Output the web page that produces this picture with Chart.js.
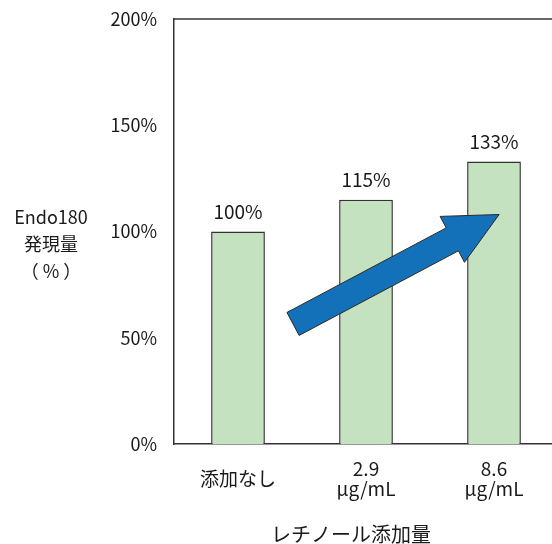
<!DOCTYPE html>
<html lang="ja">
<head>
<meta charset="UTF-8">
<title>Endo180 発現量</title>
<script src="https://cdn.jsdelivr.net/npm/chart.js"></script>
<style>
    body { margin: 0; overflow: hidden; background: #fff; }
    #wrap { width: 560px; height: 544px; }
</style>
</head>
<body>
<div id="wrap"><canvas id="chart" width="560" height="544"></canvas></div>
<script>
    var categories = ['添加なし', ['2.9', 'μg/mL'], ['8.6', 'μg/mL']];
    var expression = [100, 115, 133];
    var yTicks = [0, 50, 100, 150, 200];
    var yTitle = ['Endo180', '発現量', '（ % ）'];
    var xTitle = 'レチノール添加量';
    // arrow tail / tip in data units (category index, %)
    var arrowFrom = [0.43, 56.5];
    var arrowTo = [2.04, 108];

    var FONT = '"Noto Sans CJK JP", "Noto Sans", sans-serif';

    var decorPlugin = {
        id: 'decor',
        beforeDatasetsDraw: function (chart) {
            var ctx = chart.ctx, a = chart.chartArea;
            ctx.save();
            ctx.strokeStyle = '#333';
            ctx.lineWidth = 1.5;
            ctx.beginPath();
            ctx.moveTo(a.left, a.top);
            ctx.lineTo(chart.width, a.top);
            ctx.stroke();
            ctx.restore();
        },
        afterDatasetsDraw: function (chart) {
            var ctx = chart.ctx;
            var xs = chart.scales.x, ys = chart.scales.y;
            ctx.save();

            // value labels
            ctx.fillStyle = '#1a1a1a';
            ctx.font = '19px ' + FONT;
            ctx.textAlign = 'center';
            ctx.textBaseline = 'middle';
            chart.getDatasetMeta(0).data.forEach(function (bar, i) {
                ctx.fillText(expression[i] + '%', bar.x, bar.y - 20);
            });

            // trend arrow
            var x0 = xs.getPixelForValue(arrowFrom[0]), y0 = ys.getPixelForValue(arrowFrom[1]);
            var x1 = xs.getPixelForValue(arrowTo[0]), y1 = ys.getPixelForValue(arrowTo[1]);
            var dx = x1 - x0, dy = y1 - y0, len = Math.sqrt(dx * dx + dy * dy);
            var ux = dx / len, uy = dy / len, nx = -uy, ny = ux;
            var shaft = 13, head = 26, headLen = 53;
            var bx = x1 - ux * headLen, by = y1 - uy * headLen;
            ctx.beginPath();
            ctx.moveTo(x0 + nx * shaft, y0 + ny * shaft);
            ctx.lineTo(bx + nx * shaft, by + ny * shaft);
            ctx.lineTo(bx + nx * head, by + ny * head);
            ctx.lineTo(x1, y1);
            ctx.lineTo(bx - nx * head, by - ny * head);
            ctx.lineTo(bx - nx * shaft, by - ny * shaft);
            ctx.lineTo(x0 - nx * shaft, y0 - ny * shaft);
            ctx.closePath();
            ctx.fillStyle = '#1271b9';
            ctx.fill();
            ctx.strokeStyle = '#2a2a2a';
            ctx.lineWidth = 1;
            ctx.stroke();

            // axis titles
            ctx.fillStyle = '#1a1a1a';
            ctx.font = '18px ' + FONT;
            yTitle.forEach(function (t, i) {
                ctx.fillText(t, 51, 217 + i * 27);
            });
            ctx.font = '20px ' + FONT;
            ctx.fillText(xTitle, 351, 534);
            ctx.restore();
        }
    };

    new Chart(document.getElementById('chart'), {
        type: 'bar',
        data: {
            labels: categories,
            datasets: [{
                data: expression,
                backgroundColor: '#c5e2c0',
                borderColor: '#333',
                borderWidth: 1.5,
                barPercentage: 0.42,
                categoryPercentage: 1
            }]
        },
        options: {
            responsive: false,
            animation: false,
            layout: { padding: { top: 19, right: 2, bottom: 0, left: 0 } },
            plugins: { legend: { display: false }, tooltip: { enabled: false } },
            scales: {
                x: {
                    grid: { display: false, drawTicks: false },
                    border: { display: true, color: '#333', width: 1.5 },
                    ticks: {
                        color: '#1a1a1a',
                        padding: 25,
                        crossAlign: 'center',
                        maxRotation: 0,
                        font: { family: FONT, size: 19, lineHeight: 1.05 }
                    },
                    afterFit: function (s) {
                        s.height = 100;
                        s.paddingLeft = 0; s.paddingRight = 0;
                    }
                },
                y: {
                    min: 0,
                    max: 200,
                    afterBuildTicks: function (s) {
                        s.ticks = yTicks.map(function (v) { return { value: v }; });
                    },
                    grid: { display: false, drawTicks: false },
                    border: { display: true, color: '#333', width: 1.5 },
                    ticks: {
                        color: '#1a1a1a',
                        padding: 17,
                        font: { family: FONT, size: 18 },
                        callback: function (v) { return v + '%'; }
                    },
                    afterFit: function (s) {
                        s.width = 174;
                        s.paddingTop = 0; s.paddingBottom = 0;
                    }
                }
            }
        },
        plugins: [decorPlugin]
    });
</script>
</body>
</html>
